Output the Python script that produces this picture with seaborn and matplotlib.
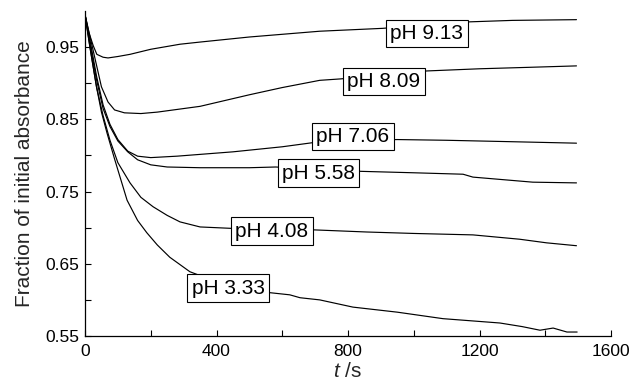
import matplotlib
matplotlib.use("Agg")
import matplotlib.pyplot as plt
import seaborn as sns
import pandas as pd
from matplotlib.ticker import MultipleLocator, FixedLocator

# ---- data ----
ph_labels = ["pH 9.13", "pH 8.09", "pH 7.06", "pH 5.58", "pH 4.08", "pH 3.33"]

t_913 = [0, 12, 25, 36, 55, 70, 100, 137, 200, 289, 350, 500, 714, 906, 1040, 1171, 1300, 1495]
a_913 = [0.995, 0.970, 0.952, 0.940, 0.936, 0.935, 0.937, 0.940, 0.947, 0.954, 0.957, 0.964,
         0.972, 0.976, 0.981, 0.985, 0.987, 0.988]

t_809 = [0, 15, 30, 50, 70, 90, 120, 170, 220, 350, 500, 600, 714, 778, 1040, 1200, 1350, 1495]
a_809 = [0.995, 0.965, 0.935, 0.895, 0.874, 0.863, 0.859, 0.858, 0.860, 0.868, 0.884, 0.894,
         0.904, 0.906, 0.917, 0.920, 0.922, 0.924]

t_706 = [0, 15, 35, 55, 76, 100, 130, 160, 200, 280, 450, 600, 714, 800, 950, 1100, 1300, 1495]
a_706 = [0.995, 0.960, 0.910, 0.870, 0.843, 0.822, 0.806, 0.799, 0.797, 0.799, 0.805, 0.812,
         0.819, 0.821, 0.822, 0.821, 0.819, 0.817]

t_558 = [0, 15, 35, 55, 76, 100, 130, 160, 200, 250, 350, 500, 580, 700, 839, 1000, 1150, 1180, 1362, 1495]
a_558 = [0.995, 0.955, 0.905, 0.865, 0.840, 0.820, 0.805, 0.794, 0.787, 0.784, 0.783, 0.783,
         0.784, 0.781, 0.778, 0.776, 0.774, 0.770, 0.763, 0.762]

t_408 = [0, 15, 35, 55, 76, 100, 137, 170, 207, 250, 289, 350, 447, 560, 693, 857, 1000, 1180, 1322, 1404, 1495]
a_408 = [0.995, 0.950, 0.895, 0.855, 0.821, 0.790, 0.762, 0.742, 0.729, 0.717, 0.708, 0.701,
         0.699, 0.698, 0.697, 0.694, 0.692, 0.690, 0.684, 0.679, 0.675]

t_333 = [0, 15, 35, 50, 67, 90, 128, 160, 188, 220, 258, 319, 400, 480, 562, 623, 654, 714, 815,
         950, 1058, 1089, 1262, 1330, 1384, 1424, 1466, 1497]
a_333 = [0.995, 0.950, 0.895, 0.860, 0.831, 0.795, 0.738, 0.710, 0.693, 0.676, 0.659, 0.639,
         0.625, 0.616, 0.610, 0.607, 0.603, 0.600, 0.590, 0.583, 0.576, 0.574, 0.568, 0.563,
         0.558, 0.561, 0.5555, 0.5555]

series_t = [t_913, t_809, t_706, t_558, t_408, t_333]
series_a = [a_913, a_809, a_706, a_558, a_408, a_333]

# label box centres (t, absorbance)
label_t = [1040, 909, 815, 710, 569, 435]
label_a = [0.9687, 0.9023, 0.8261, 0.7756, 0.6953, 0.6164]

x_major = [0, 400, 800, 1200, 1600]
y_major = [0.55, 0.65, 0.75, 0.85, 0.95]
y_major_labels = ["0.55", "0.65", "0.75", "0.85", "0.95"]

# ---- style ----
sns.set_style("ticks")
plt.rcParams["font.family"] = ["Liberation Sans", "DejaVu Sans"]
plt.rcParams["mathtext.fontset"] = "custom"
plt.rcParams["mathtext.it"] = "Liberation Sans:italic"
plt.rcParams["mathtext.rm"] = "Liberation Sans"

frames = []
for lab, tt, aa in zip(ph_labels, series_t, series_a):
    frames.append(pd.DataFrame({"t": tt, "A": aa, "pH": lab}))
df = pd.concat(frames, ignore_index=True)

fig = plt.figure(figsize=(6.32, 3.86), dpi=100)
ax = fig.add_axes([85 / 632, 50 / 386, 526 / 632, 325 / 386])

sns.lineplot(data=df, x="t", y="A", hue="pH", palette=["black"] * 6,
             estimator=None, sort=False, legend=False, linewidth=0.85, ax=ax)

for lab, lt, la in zip(ph_labels, label_t, label_a):
    ax.text(lt, la, lab, ha="center", va="center", fontsize=15, color="black", zorder=5,
            bbox=dict(boxstyle="square,pad=0.2", facecolor="white", edgecolor="black", linewidth=0.8))

ax.set_xlim(0, 1600)
ax.set_ylim(0.55, 1.0)
ax.xaxis.set_major_locator(FixedLocator(x_major))
ax.xaxis.set_minor_locator(MultipleLocator(200))
ax.set_yticks(y_major)
ax.set_yticklabels(y_major_labels)
ax.yaxis.set_minor_locator(FixedLocator([0.60, 0.70, 0.80, 0.90]))
ax.tick_params(which="both", direction="in", length=4, width=0.8, labelsize=12.5, colors="black")
ax.tick_params(axis="x", pad=6)
ax.tick_params(axis="y", pad=4)

sns.despine(ax=ax)
for s in ["left", "bottom"]:
    ax.spines[s].set_linewidth(0.9)
    ax.spines[s].set_color("black")

ax.set_xlabel(r"$t$ /s", fontsize=15, labelpad=2)
ax.set_ylabel("Fraction of initial absorbance", fontsize=15, labelpad=8)

fig.savefig("out.png", dpi=100, facecolor="white")
